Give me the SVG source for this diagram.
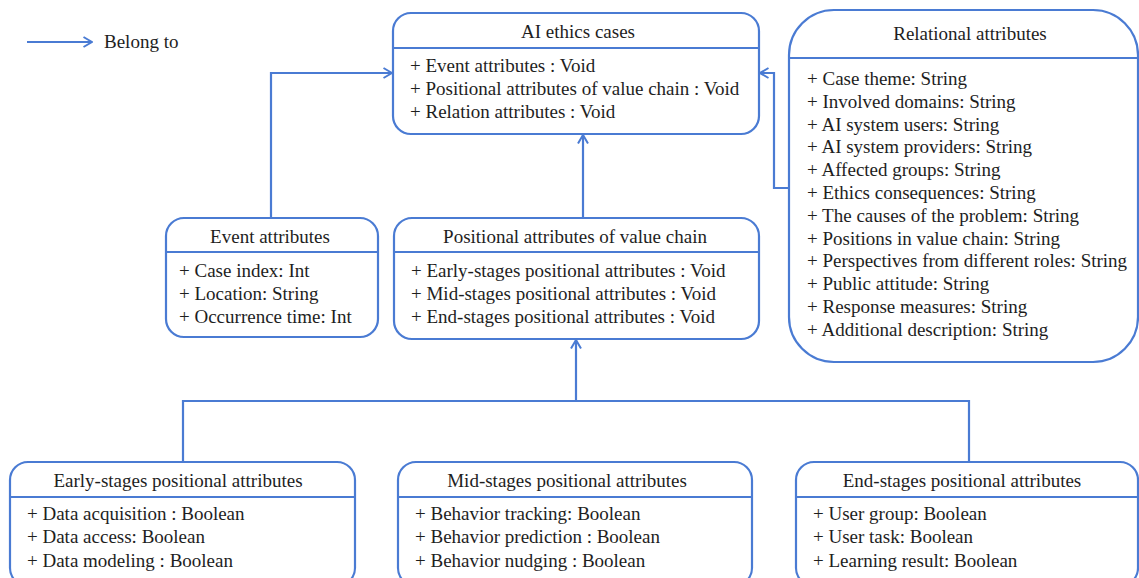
<svg xmlns="http://www.w3.org/2000/svg" width="1139" height="578" viewBox="0 0 1139 578">
  <defs>
    <marker id="arrow" viewBox="0 0 10 12" refX="9.5" refY="6" markerWidth="10" markerHeight="12" markerUnits="userSpaceOnUse" orient="auto">
      <path d="M1,1 L9.5,6 L1,11" fill="none" stroke="#4a7bd3" stroke-width="2"/>
    </marker>
  </defs>
  <style>
    .box { fill: #ffffff; stroke: #4a7bd3; stroke-width: 2.2; }
    .sep { stroke: #4a7bd3; stroke-width: 2.2; }
    .link { fill: none; stroke: #4a7bd3; stroke-width: 2.2; }
    text { font-family: "Liberation Serif", "Times New Roman", serif; font-size: 19px; fill: #1e1e1e; }
    .title { text-anchor: middle; }
  </style>
  <rect width="1139" height="578" fill="#ffffff"/>

  <!-- legend -->
  <g id="legend">
    <line class="link" x1="27" y1="42" x2="92" y2="42" marker-end="url(#arrow)"/>
    <text x="104" y="48">Belong to</text>
  </g>

  <!-- connectors -->
  <g id="connectors">
    <path class="link" d="M271,218 V73 H392" marker-end="url(#arrow)"/>
    <path class="link" d="M583,218 V135" marker-end="url(#arrow)"/>
    <path class="link" d="M789,188 H774 V73 H760" marker-end="url(#arrow)"/>
    <path class="link" d="M576,401 V340" marker-end="url(#arrow)"/>
    <path class="link" d="M183,462 V401 H969 V462"/>
  </g>

  <g id="ai-ethics-cases">
    <rect class="box" x="393" y="13" width="366" height="121" rx="18"/>
    <line class="sep" x1="393" y1="48" x2="759" y2="48"/>
    <text class="title" x="578" y="38">AI ethics cases</text>
    <text x="410" y="72">+ Event attributes : Void</text>
    <text x="410" y="95">+ Positional attributes of value chain : Void</text>
    <text x="410" y="118">+ Relation attributes : Void</text>
  </g>

  <g id="relational-attributes">
    <rect class="box" x="789" y="10" width="349" height="352" rx="45"/>
    <line class="sep" x1="789" y1="58" x2="1138" y2="58"/>
    <text class="title" x="970" y="40">Relational attributes</text>
    <text x="807" y="85">+ Case theme: String</text>
    <text x="807" y="108">+ Involved domains: String</text>
    <text x="807" y="131">+ AI system users: String</text>
    <text x="807" y="153">+ AI system providers: String</text>
    <text x="807" y="176">+ Affected groups: String</text>
    <text x="807" y="199">+ Ethics consequences: String</text>
    <text x="807" y="222">+ The causes of the problem: String</text>
    <text x="807" y="245">+ Positions in value chain: String</text>
    <text x="807" y="267">+ Perspectives from different roles: String</text>
    <text x="807" y="290">+ Public attitude: String</text>
    <text x="807" y="313">+ Response measures: String</text>
    <text x="807" y="336">+ Additional description: String</text>
  </g>

  <g id="event-attributes">
    <rect class="box" x="166" y="218" width="212" height="119" rx="18"/>
    <line class="sep" x1="166" y1="252" x2="378" y2="252"/>
    <text class="title" x="270" y="243">Event attributes</text>
    <text x="179" y="277">+ Case index: Int</text>
    <text x="179" y="300">+ Location: String</text>
    <text x="179" y="323">+ Occurrence time: Int</text>
  </g>

  <g id="positional-attributes">
    <rect class="box" x="394" y="218" width="365" height="121" rx="18"/>
    <line class="sep" x1="394" y1="252" x2="759" y2="252"/>
    <text class="title" x="575" y="243">Positional attributes of value chain</text>
    <text x="411" y="277">+ Early-stages positional attributes : Void</text>
    <text x="411" y="300">+ Mid-stages positional attributes : Void</text>
    <text x="411" y="323">+ End-stages positional attributes : Void</text>
  </g>

  <g id="early-stages">
    <rect class="box" x="10" y="462" width="345" height="124" rx="18"/>
    <line class="sep" x1="10" y1="497" x2="355" y2="497"/>
    <text class="title" x="178" y="487">Early-stages positional attributes</text>
    <text x="27" y="520">+ Data acquisition : Boolean</text>
    <text x="27" y="543">+ Data access: Boolean</text>
    <text x="27" y="567">+ Data modeling : Boolean</text>
  </g>

  <g id="mid-stages">
    <rect class="box" x="398" y="462" width="354" height="124" rx="18"/>
    <line class="sep" x1="398" y1="497" x2="752" y2="497"/>
    <text class="title" x="567" y="487">Mid-stages positional attributes</text>
    <text x="415" y="520">+ Behavior tracking: Boolean</text>
    <text x="415" y="543">+ Behavior prediction : Boolean</text>
    <text x="415" y="567">+ Behavior nudging : Boolean</text>
  </g>

  <g id="end-stages">
    <rect class="box" x="796" y="462" width="342" height="124" rx="18"/>
    <line class="sep" x1="796" y1="497" x2="1138" y2="497"/>
    <text class="title" x="962" y="487">End-stages positional attributes</text>
    <text x="813" y="520">+ User group: Boolean</text>
    <text x="813" y="543">+ User task: Boolean</text>
    <text x="813" y="567">+ Learning result: Boolean</text>
  </g>
</svg>
